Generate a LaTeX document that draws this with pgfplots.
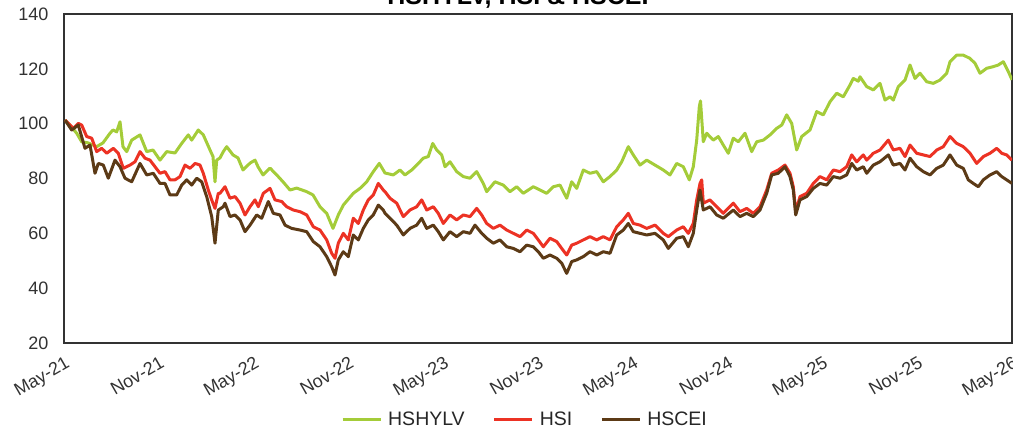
\documentclass[border=0pt]{standalone}
\usepackage{pgfplots}
\pgfplotsset{compat=1.18}
\usepackage{fontspec}
\setmainfont{Liberation Sans}
\definecolor{cGreen}{RGB}{164,204,57}
\definecolor{cRed}{RGB}{236,50,36}
\definecolor{cBrown}{RGB}{92,58,22}
\definecolor{cAxis}{RGB}{50,50,50}
\begin{document}
\begin{tikzpicture}
\begin{axis}[
  at={(64pt,83pt)}, anchor=south west,
  width=948pt, height=329pt, scale only axis,
  xmin=64, xmax=1012, ymin=20, ymax=140,
  xtick={64,158.8,253.6,348.4,443.2,538,632.8,727.6,822.4,917.2,1012},
  xticklabels={May-21,Nov-21,May-22,Nov-22,May-23,Nov-23,May-24,Nov-24,May-25,Nov-25,May-26},
  ytick={20,40,...,140},
  major tick length=0pt,
  axis line style={draw=cAxis, line width=1.5pt},
  tick label style={font=\fontsize{18}{20}\selectfont, text=cAxis},
  xticklabel style={rotate=30, anchor=north east, inner sep=1pt, yshift=-10pt, xshift=-5pt},
  yticklabel style={xshift=-12pt},
  /pgf/number format/assume math mode=true,
  legend columns=3,
  legend style={at={(axis description cs:0.4863,-0.231)}, anchor=center, draw=none, fill=none,
    font=\fontsize{19.5}{21}\selectfont, text=black!85,
    /tikz/every odd column/.append style={column sep=4pt},
    /tikz/every even column/.append style={column sep=26pt}},
  legend image code/.code={\draw[#1, line width=3pt] (0pt,0pt) -- (38pt,0pt);},
  every axis plot/.append style={line width=3pt, line join=round},
]
\addplot[cGreen] table {
65 101.3
71 99
76.7 96.5
81.7 93.4
88 93
96.7 91.6
103 93
110 96.5
113 97.7
116.7 97
120 100.7
123 91.6
126.7 89.8
131.7 94
140 95.9
146.7 89.8
153 90.4
160 86.7
166.7 89.8
175 89.3
181.7 92.8
188.3 95.9
191.7 94
198.3 97.7
203.3 95.9
210 90.4
213 88
215 78.8
216.7 86.7
220 87.5
223.3 89.8
226.7 91.6
233 88.6
238 87.5
243 83.1
250 85.6
255 86.7
258 84.3
263 81.3
270 83.8
276.7 81.3
283 78.8
290 75.8
296.7 76.5
306.7 75.2
313 74
320 69.7
326.7 67.3
333 61.8
338.3 66.7
343.3 70.3
353.3 74.6
360 76.4
366.7 78.8
373.3 82.5
379.3 85.5
385 82
393.3 81.3
400 83.1
405 81.3
411.7 83.1
418.3 85.5
423.3 87.4
428.3 88
432.7 92.8
436.7 90.4
441.7 88.6
445 84.3
450 86.1
456.7 82.5
463.3 80.7
470 80.1
476.7 82.5
483.3 78.2
486.7 75.2
495 78.8
503.3 77.6
510 75.2
516.7 77
523.3 74.6
533.3 77
540 75.8
546.7 74.6
553.3 77
560 77.6
566.7 72.8
571.7 78.8
576.7 76.4
583.3 83.1
590 81.9
596.7 82.5
603.3 78.8
610 80.7
616.7 83.1
621.7 86.1
628.3 91.6
633.3 88.6
640 84.9
646.7 86.7
655 84.9
663.3 83.1
670 81.3
676.7 85.5
683.3 84.3
689.3 79.5
693.3 84.3
696.7 94
699.3 106.2
700.5 108.3
703.3 93.4
706.7 96.5
713.3 94
718.3 95.3
723.3 92.2
728.3 89.2
733.3 94.7
738.3 93.4
745 96.5
751.7 89.8
756.7 93.4
763.3 94
770 95.9
776.7 98.3
781.7 99.5
786.7 103.2
791.7 100.1
796.7 90.4
801.7 95.3
810 97.7
816.7 104.4
823.3 103.2
830 108
836.7 111.1
843.3 109.8
850 114.1
853.3 116.5
858.3 115.5
860 117.1
866.7 113.5
873.3 112.3
880 114.7
885 108.6
890 109.8
893.3 108.6
898.3 113.5
905 115.9
910 121.4
915 116.5
920 118.4
926.7 115.3
933.3 114.7
940 115.9
946.7 118.4
950 122.6
956.7 125
963.3 125
970 123.8
975 122
980 118.4
986.7 120.2
993.3 120.8
998.3 121.4
1003.3 122.6
1008.3 119
1012 116
};
\addlegendentry{HSHYLV}
\addplot[cRed] table {
65 101.3
73.3 98.3
78.3 100.1
81.7 99.5
86.7 95.3
91.7 94.7
96.7 89.8
101.7 91
106.7 89.2
113.3 91
118.3 89.2
123.3 83.7
130 84.9
135 86.1
140 89.8
145 87.4
150 86.7
155 84.3
160 81.9
165 82.5
170 79.5
175 79.5
180 80.7
185 84.9
190 83.7
195 85.5
200 84.9
203.3 81.9
208.3 75.8
211.7 72.2
215 69.1
218.3 74.6
220 74.6
225 77
230 72.8
235 73.4
240 71
245 66.7
250 69.7
255 72.2
258.3 69.7
263.3 74.6
270 76.4
275 72.2
281.7 71.6
286.7 69.7
293.3 68.5
300 67.9
306.7 66.7
313.3 62.4
320 61.2
326.7 57.6
331.7 52.7
335 50.9
338.3 56.4
343.3 60
348.3 57.6
353.3 65.5
358.3 63.6
363.3 68.5
368.3 72.2
373.3 74
378.3 78.2
383.3 75.8
385 75.2
390 72.8
396.7 71
403.3 66.1
410 68.5
416.7 69.7
421.7 72.2
426.7 68.5
433.3 69.7
438.3 67.3
443.3 63.6
450 66.7
456.7 64.9
463.3 66.7
470 66.1
476.7 69.1
481.7 66.7
486.7 63.6
493.3 61.8
500 63
506.7 61.2
513.3 60
520 58.8
526.7 61.2
533.3 60
538.3 57.6
543.3 55.1
550 58.2
556.7 57
561.7 54.5
566.7 52.1
571.7 55.7
576.7 56.4
583.3 57.6
590 58.8
596.7 57.6
603.3 58.8
610 57.6
616.7 62.4
623.3 64.9
628.3 67.3
633.3 63.6
640 63
646.7 61.8
655 63
663.3 60
668.3 58.8
676.7 61.2
683.3 62.4
688.3 60
693.3 63.6
696.7 72.2
700 78.2
701.7 79.5
703.3 71
710 72.2
716.7 69.7
723.3 67.3
733.3 71
740 67.9
746.7 69.1
753.3 67.3
760 69.7
766.7 75.8
771.7 81.9
778.3 83.1
785 84.9
790 81.9
793.3 77
795.7 67.9
800 73.4
806.7 74.6
813.3 78.2
820 80.7
826.7 79.5
833.3 83.1
840 82.5
846.7 84.3
851.7 88.6
856.7 86.1
863.3 88.6
866.7 86.7
873.3 89.2
880 90.4
888.3 94
893.3 90.4
900 91
905 88
910 92.2
916.7 89.2
923.3 88.6
930 88
936.7 90.4
943.3 91.6
950 95.3
956.7 92.8
963.3 91.6
970 89.2
976.7 85.5
983.3 88
990 89.2
996.7 91
1001.7 89.2
1006.7 88.6
1012 86.7
};
\addlegendentry{HSI}
\addplot[cBrown] table {
65 101.3
71.7 97.7
78.3 99.5
85 91
90 92.2
95 81.9
98.3 85.5
103.3 84.9
108.3 80.1
115 86.7
120 84.3
125 80.1
131.7 78.8
140 85.5
146.7 81.3
153.3 81.9
160 78.2
165 78.2
170 74
176.7 74
181.7 77.6
186.7 79.5
191.7 77.6
196.7 80.1
201.7 78.8
206.7 73.4
211.7 66.1
215 56.4
218.3 68.5
223.3 69.7
225 71
230 66.1
235 66.7
240 64.9
245 60.6
250 63
256.7 66.7
261.7 65.5
268.3 71.6
273.3 67.3
280 66.7
285 63
291.7 61.8
300 61.2
306.7 60.6
313.3 57
320 55.1
326.7 51.5
331.7 47.8
335 44.8
338.3 50.3
343.3 53.3
348.3 51.5
353.3 59.4
358.3 57.6
363.3 61.8
368.3 64.9
373.3 66.7
378.3 70.3
383.3 68.5
385 67.3
390 65.5
396.7 63
403.3 59.4
410 61.8
416.7 63
421.7 65.5
426.7 61.8
433.3 63
438.3 60.6
443.3 57.6
450 60.6
456.7 58.8
463.3 60.6
470 60
475 63
481.7 60
486.7 58.2
493.3 56.4
500 57.6
506.7 55.1
513.3 54.5
520 53.3
526.7 55.7
533.3 55.1
538.3 53.3
543.3 50.9
550 52.1
556.7 50.9
561.7 49.1
566.7 45.4
571.7 49.7
576.7 50.3
583.3 51.5
590 53.3
596.7 52.1
603.3 53.3
610 52.7
616.7 59.4
623.3 61.2
628.3 63.6
633.3 60.6
640 60
646.7 59.4
655 60
663.3 57.6
668.3 54.5
676.7 58.2
683.3 58.8
688.3 55.1
693.3 60
696.7 68.5
700 75.8
703.3 68.5
710 69.7
716.7 66.7
723.3 65.5
733.3 68.5
740 66.1
746.7 67.3
753.3 66.1
760 68.5
766.7 74.6
771.7 81.3
778.3 81.9
785 84.3
790 80.7
793.3 75.8
795.7 66.7
800 72.2
806.7 73.4
813.3 76.4
820 78.2
826.7 77.6
833.3 80.7
840 80.1
846.7 81.3
851.7 85.5
856.7 83.1
863.3 84.3
866.7 81.9
873.3 84.9
880 86.1
888.3 88.6
893.3 84.9
900 85.5
905 83.1
910 87.4
916.7 84.3
923.3 82.5
930 81.3
936.7 83.7
943.3 84.9
950 88.6
956.7 84.9
963.3 83.7
968.3 79.5
973.3 78.2
978.3 77
983.3 79.5
990 81.3
996.7 82.5
1001.7 80.7
1006.7 79.5
1012 78.2
};
\addlegendentry{HSCEI}
\end{axis}
\node[anchor=base, font=\fontsize{25}{28}\selectfont\bfseries, text=black] at (518pt,421pt) {HSHYLV, HSI \& HSCEI};
\pgfresetboundingbox
\path[use as bounding box] (0pt,0pt) rectangle (1013pt,426pt);
\end{tikzpicture}
\end{document}
